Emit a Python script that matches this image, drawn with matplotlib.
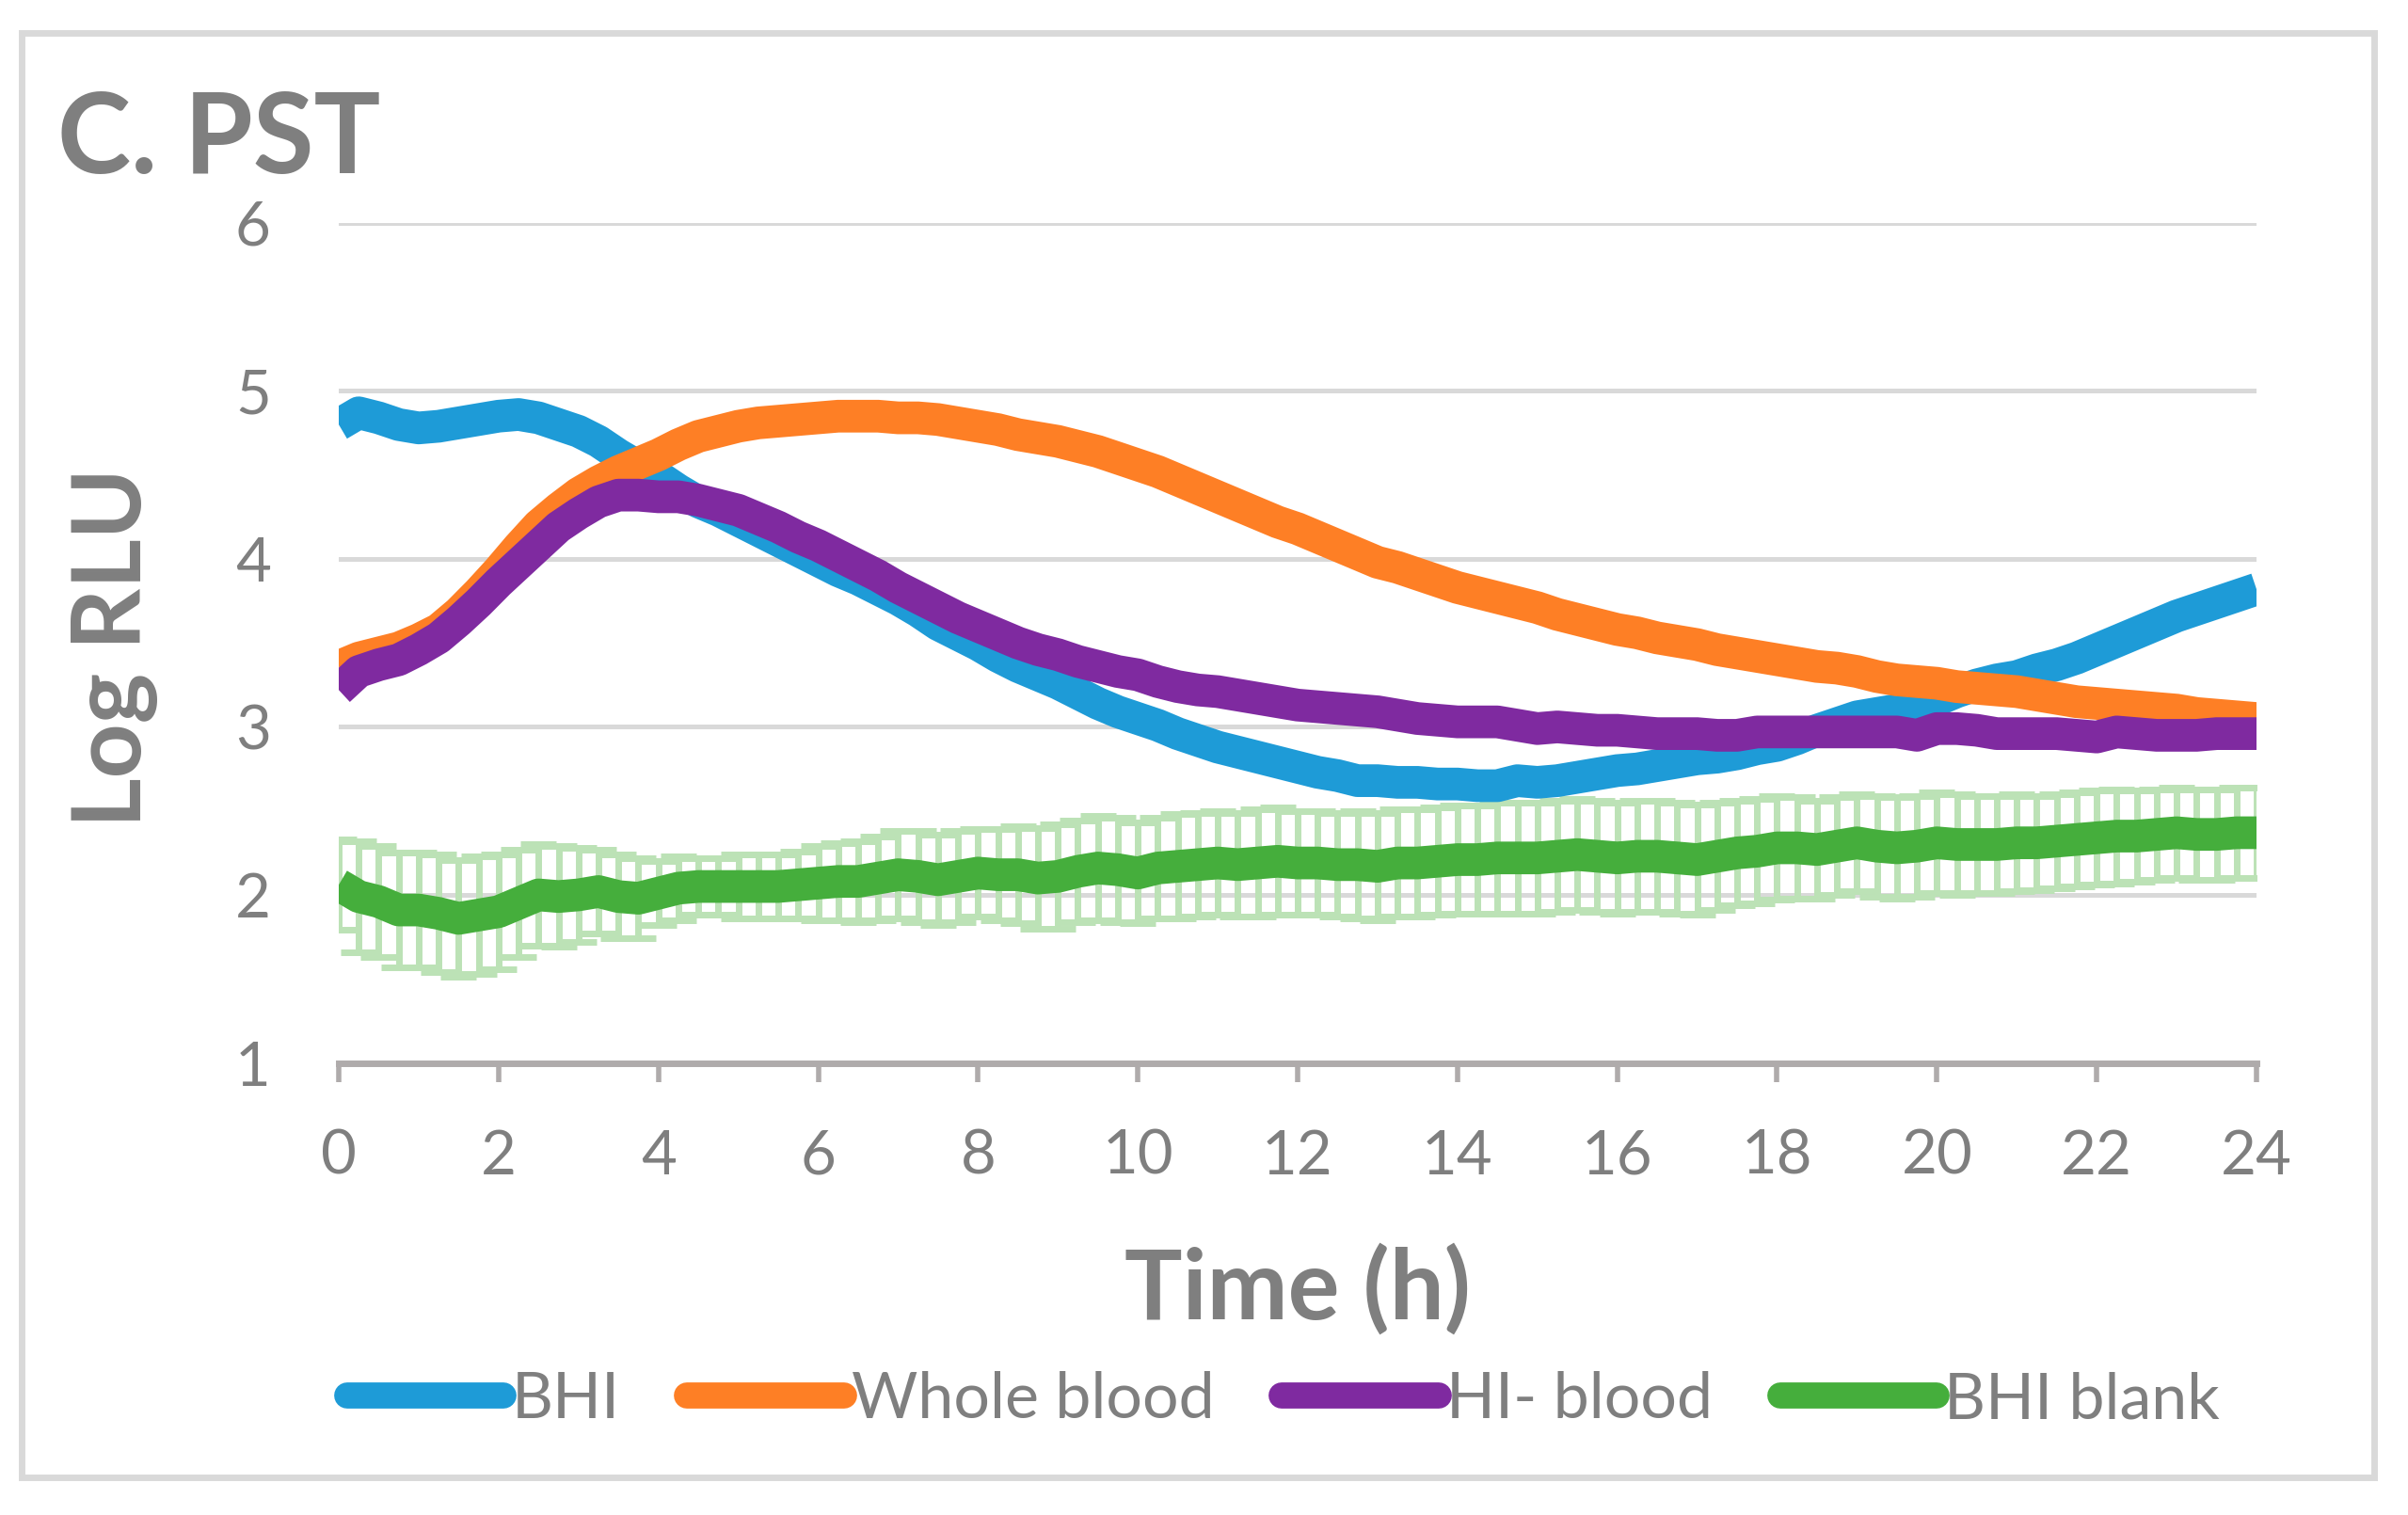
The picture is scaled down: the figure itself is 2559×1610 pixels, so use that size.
import matplotlib.pyplot as plt
from matplotlib.lines import Line2D
from matplotlib.patches import Rectangle

# readings every 15 min, 0-24 h
hours = [q / 4 for q in range(97)]

bhi = [4.80, 4.87, 4.84, 4.80, 4.78, 4.79, 4.81, 4.83, 4.85, 4.86, 4.84, 4.80,
       4.76, 4.70, 4.62, 4.55, 4.49, 4.41, 4.34, 4.29, 4.23, 4.17, 4.11, 4.05,
       3.99, 3.93, 3.88, 3.82, 3.76, 3.69, 3.61, 3.55, 3.49, 3.42, 3.36, 3.31,
       3.26, 3.20, 3.14, 3.09, 3.05, 3.01, 2.96, 2.92, 2.88, 2.85, 2.82, 2.79,
       2.76, 2.73, 2.71, 2.68, 2.68, 2.67, 2.67, 2.66, 2.66, 2.65, 2.65, 2.68,
       2.67, 2.68, 2.70, 2.72, 2.74, 2.75, 2.77, 2.79, 2.81, 2.82, 2.84, 2.87,
       2.89, 2.93, 2.98, 3.02, 3.06, 3.08, 3.10, 3.12, 3.16, 3.21, 3.25, 3.28,
       3.30, 3.34, 3.37, 3.41, 3.46, 3.51, 3.56, 3.61, 3.66, 3.70, 3.74, 3.78,
       3.82]

whole_blood = [3.36, 3.41, 3.44, 3.47, 3.52, 3.58, 3.68, 3.80, 3.93, 4.07, 4.20, 4.30,
               4.39, 4.46, 4.52, 4.57, 4.62, 4.68, 4.73, 4.76, 4.79, 4.81, 4.82, 4.83,
               4.84, 4.85, 4.85, 4.85, 4.84, 4.84, 4.83, 4.81, 4.79, 4.77, 4.74, 4.72,
               4.70, 4.67, 4.64, 4.60, 4.56, 4.52, 4.47, 4.42, 4.37, 4.32, 4.27, 4.22,
               4.18, 4.13, 4.08, 4.03, 3.98, 3.95, 3.91, 3.87, 3.83, 3.80, 3.77, 3.74,
               3.71, 3.67, 3.64, 3.61, 3.58, 3.56, 3.53, 3.51, 3.49, 3.46, 3.44, 3.42,
               3.40, 3.38, 3.36, 3.35, 3.33, 3.30, 3.28, 3.27, 3.26, 3.24, 3.23, 3.22,
               3.21, 3.19, 3.17, 3.15, 3.14, 3.13, 3.12, 3.11, 3.10, 3.08, 3.07, 3.06,
               3.05]

hi_blood = [3.22, 3.33, 3.37, 3.40, 3.46, 3.53, 3.63, 3.74, 3.86, 3.97, 4.08, 4.19,
            4.27, 4.34, 4.38, 4.38, 4.37, 4.37, 4.35, 4.32, 4.29, 4.24, 4.19, 4.13,
            4.08, 4.02, 3.96, 3.90, 3.83, 3.77, 3.71, 3.65, 3.60, 3.55, 3.50, 3.46,
            3.43, 3.39, 3.36, 3.33, 3.31, 3.27, 3.24, 3.22, 3.21, 3.19, 3.17, 3.15,
            3.13, 3.12, 3.11, 3.10, 3.09, 3.07, 3.05, 3.04, 3.03, 3.03, 3.03, 3.01,
            2.99, 3.00, 2.99, 2.98, 2.98, 2.97, 2.96, 2.96, 2.96, 2.95, 2.95, 2.97,
            2.97, 2.97, 2.97, 2.97, 2.97, 2.97, 2.97, 2.95, 2.99, 2.99, 2.98, 2.96,
            2.96, 2.96, 2.96, 2.95, 2.94, 2.97, 2.96, 2.95, 2.95, 2.95, 2.96, 2.96,
            2.96]

bhi_blank = [2.06, 1.99, 1.96, 1.91, 1.91, 1.89, 1.86, 1.88, 1.90, 1.95, 2.00, 1.99,
             2.00, 2.02, 1.99, 1.98, 2.01, 2.04, 2.05, 2.05, 2.05, 2.05, 2.05, 2.06,
             2.07, 2.08, 2.08, 2.10, 2.12, 2.11, 2.09, 2.11, 2.13, 2.12, 2.12, 2.10,
             2.11, 2.14, 2.16, 2.15, 2.13, 2.16, 2.17, 2.18, 2.19, 2.18, 2.19, 2.20,
             2.19, 2.19, 2.18, 2.18, 2.17, 2.19, 2.19, 2.20, 2.21, 2.21, 2.22, 2.22,
             2.22, 2.23, 2.24, 2.23, 2.22, 2.23, 2.23, 2.22, 2.21, 2.23, 2.25, 2.26,
             2.28, 2.28, 2.27, 2.29, 2.31, 2.29, 2.28, 2.29, 2.31, 2.30, 2.30, 2.30,
             2.31, 2.31, 2.32, 2.33, 2.34, 2.35, 2.35, 2.36, 2.37, 2.36, 2.36, 2.37,
             2.37]

bhi_blank_sd = [0.27, 0.33, 0.33, 0.34, 0.34, 0.35, 0.35, 0.35, 0.34, 0.32, 0.30, 0.30,
                0.28, 0.25, 0.25, 0.24, 0.19, 0.19, 0.17, 0.17, 0.19, 0.19, 0.19, 0.20,
                0.22, 0.23, 0.24, 0.25, 0.26, 0.27, 0.27, 0.27, 0.26, 0.27, 0.29, 0.30,
                0.31, 0.30, 0.31, 0.31, 0.30, 0.30, 0.31, 0.31, 0.31, 0.31, 0.32, 0.32,
                0.31, 0.31, 0.31, 0.32, 0.32, 0.32, 0.32, 0.32, 0.32, 0.32, 0.33, 0.33,
                0.33, 0.33, 0.33, 0.33, 0.33, 0.33, 0.33, 0.33, 0.33, 0.32, 0.31, 0.31,
                0.31, 0.30, 0.29, 0.29, 0.29, 0.30, 0.30, 0.30, 0.30, 0.30, 0.29, 0.29,
                0.29, 0.28, 0.28, 0.28, 0.28, 0.28, 0.27, 0.27, 0.27, 0.27, 0.27, 0.27,
                0.27]

labels = ['BHI', 'Whole blood', 'HI- blood', 'BHI blank']
colors = ['#1e9bd7', '#fe7f25', '#7f2aa0', '#45ae3c']
xticks = list(range(0, 25, 2))
yticks = [1, 2, 3, 4, 5, 6]

plt.rcParams['font.family'] = ['Lato', 'DejaVu Sans']
grey = '#7f7f7f'

fig = plt.figure(figsize=(25.59, 16.10), dpi=100)

# chart frame
fig.patches.append(Rectangle((23 / 2559, 1 - 1570 / 1610), 2500 / 2559, 1535 / 1610,
                             transform=fig.transFigure, fill=False,
                             edgecolor='#d9d9d9', linewidth=5))

ax = fig.add_axes([360 / 2559, 1 - 1129.5 / 1610, 2038 / 2559, 892.5 / 1610])

ax.errorbar(hours, bhi_blank, yerr=bhi_blank_sd, fmt='none', ecolor='#bce2b6',
            elinewidth=5, capsize=14, capthick=5, zorder=2)
series = [bhi, whole_blood, hi_blood, bhi_blank]
for vals, col in zip(series, colors):
    ax.plot(hours, vals, color=col, linewidth=25, solid_joinstyle='round',
            solid_capstyle='butt', zorder=3)

ax.set_xlim(0, 24)
ax.set_ylim(1, 6)
ax.set_xticks(xticks)
ax.set_yticks(yticks)
ax.grid(axis='y', color='#d9d9d9', linewidth=3.6, zorder=0)
ax.set_axisbelow(True)
for s in ['top', 'right', 'left']:
    ax.spines[s].set_visible(False)
ax.spines['bottom'].set_color('#afabab')
ax.spines['bottom'].set_linewidth(5)
ax.tick_params(axis='x', colors='#afabab', length=14.5, width=4, pad=36,
               labelsize=47, labelcolor=grey)
ax.tick_params(axis='y', length=0, pad=52, labelsize=47, labelcolor=grey)

fig.text(61 / 2559, 1 - 184 / 1610, 'C. PST', fontsize=85, fontweight='bold',
         color=grey, ha='left', va='baseline')
fig.text(150 / 2559, 1 - 688 / 1610, 'Log RLU', fontsize=73, fontweight='bold',
         color=grey, rotation=90, rotation_mode='anchor', ha='center', va='baseline')
fig.text(1379 / 2559, 1 - 1402 / 1610, 'Time (h)', fontsize=74, fontweight='bold',
         color=grey, ha='center', va='baseline')

handles = [Line2D([], [], color=c, linewidth=20, solid_capstyle='round') for c in colors]
fig.legend(handles, labels, loc='center', bbox_to_anchor=(1364 / 2559, 1 - 1488 / 1610),
           ncol=4, frameon=False, fontsize=49, handlelength=2.45, handletextpad=0.12,
           columnspacing=1.05, labelcolor=grey)

fig.savefig('out.png', dpi=100)
